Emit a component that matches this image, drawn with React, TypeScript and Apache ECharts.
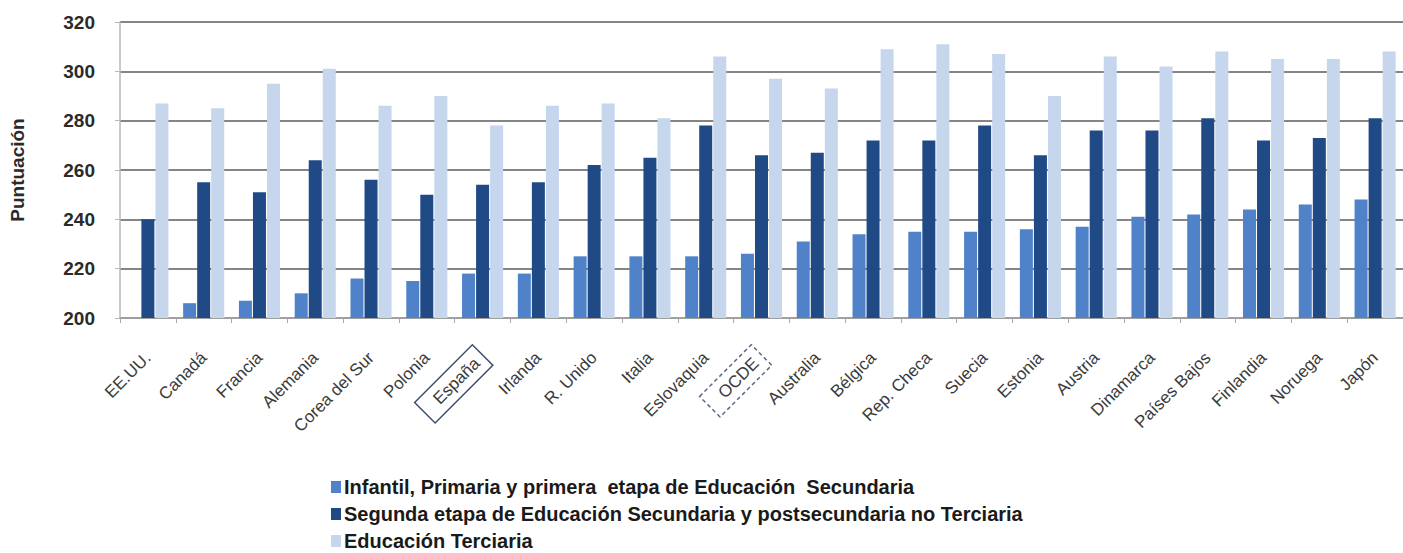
import React, { useEffect, useRef } from "react";
import * as echarts from "echarts";

const categories = [
  "EE.UU.", "Canadá", "Francia", "Alemania", "Corea del Sur", "Polonia", "España",
  "Irlanda", "R. Unido", "Italia", "Eslovaquia", "OCDE", "Australia", "Bélgica",
  "Rep. Checa", "Suecia", "Estonia", "Austria", "Dinamarca", "Países Bajos",
  "Finlandia", "Noruega", "Japón",
];

const seriesNames = [
  "Infantil, Primaria y primera  etapa de Educación  Secundaria",
  "Segunda etapa de Educación Secundaria y postsecundaria no Terciaria",
  "Educación Terciaria",
];

const infantilPrimaria = [
  null, 206, 207, 210, 216, 215, 218, 218, 225, 225, 225, 226, 231, 234, 235,
  235, 236, 237, 241, 242, 244, 246, 248,
];
const segundaEtapa = [
  240, 255, 251, 264, 256, 250, 254, 255, 262, 265, 278, 266, 267, 272, 272,
  278, 266, 276, 276, 281, 272, 273, 281,
];
const terciaria = [
  287, 285, 295, 301, 286, 290, 278, 286, 287, 281, 306, 297, 293, 309, 311,
  307, 290, 306, 302, 308, 305, 305, 308,
];

const yTicks = { min: 200, max: 320, interval: 20 };
const colors = ["#4f82c8", "#1f4a86", "#c5d6ed"];

export default function App() {
  const ref = useRef<HTMLDivElement>(null);
  useEffect(() => {
    document.body.style.margin = "0";
    const chart = echarts.init(ref.current!, null, { renderer: "svg" });
    const font = "'Liberation Sans', Arial, sans-serif";
    chart.setOption({
      animation: false,
      textStyle: { fontFamily: font },
      grid: { left: 120, right: -5, top: 22, bottom: 235, containLabel: false },
      legend: {
        orient: "vertical",
        left: 326,
        top: 472,
        height: 100,
        itemWidth: 10,
        itemHeight: 12,
        itemGap: 7,
        icon: "rect",
        selectedMode: false,
        textStyle: { fontFamily: font, fontSize: 20, fontWeight: "bold", color: "#1a1a1a", padding: [0, 0, 0, -2] },
        data: seriesNames,
      },
      xAxis: {
        type: "category",
        data: categories,
        axisLine: { lineStyle: { color: "#a8a8a8", width: 1.5 } },
        axisTick: { show: true, length: 5, lineStyle: { color: "#a8a8a8" } },
        axisLabel: {
          rotate: 45,
          margin: 37,
          interval: 0,
          fontSize: 17,
          color: "#3a3a3a",
          fontFamily: font,
          formatter: (v: string) =>
            v === "España" ? `{box|${v}}` : v === "OCDE" ? `{dbox|${v}}` : v,
          rich: {
            box: {
              fontSize: 17,
              color: "#3a3a3a",
              borderColor: "#3d4d6e",
              borderWidth: 1.5,
              padding: [6, 8, 6, 16],
            },
            dbox: {
              fontSize: 17,
              color: "#3a3a3a",
              borderColor: "#5a6688",
              borderWidth: 1.5,
              borderType: [4, 3],
              padding: [6, 8, 6, 16],
            },
          },
        },
      },
      yAxis: {
        type: "value",
        min: yTicks.min,
        max: yTicks.max,
        interval: yTicks.interval,
        name: "Puntuación",
        nameLocation: "middle",
        nameGap: 93,
        nameRotate: 90,
        nameTextStyle: { fontSize: 19, fontWeight: "bold", color: "#2a2a2a", fontFamily: font },
        axisLine: { show: true, lineStyle: { color: "#b8b8b8", width: 1.5 } },
        axisTick: { show: true, length: 5, lineStyle: { color: "#b8b8b8" } },
        axisLabel: { fontSize: 19, fontWeight: "bold", color: "#2a2a2a", margin: 25, fontFamily: font },
        splitLine: { lineStyle: { color: "#858585", width: 2 } },
      },
      series: [
        { name: seriesNames[0], type: "bar", data: infantilPrimaria, barWidth: 13, barGap: "8%", itemStyle: { color: colors[0] } },
        { name: seriesNames[1], type: "bar", data: segundaEtapa, barWidth: 13, barGap: "8%", itemStyle: { color: colors[1] } },
        { name: seriesNames[2], type: "bar", data: terciaria, barWidth: 13, barGap: "8%", itemStyle: { color: colors[2] } },
      ],
    });
    return () => chart.dispose();
  }, []);
  return <div ref={ref} style={{ width: 1403, height: 553 }} />;
}
